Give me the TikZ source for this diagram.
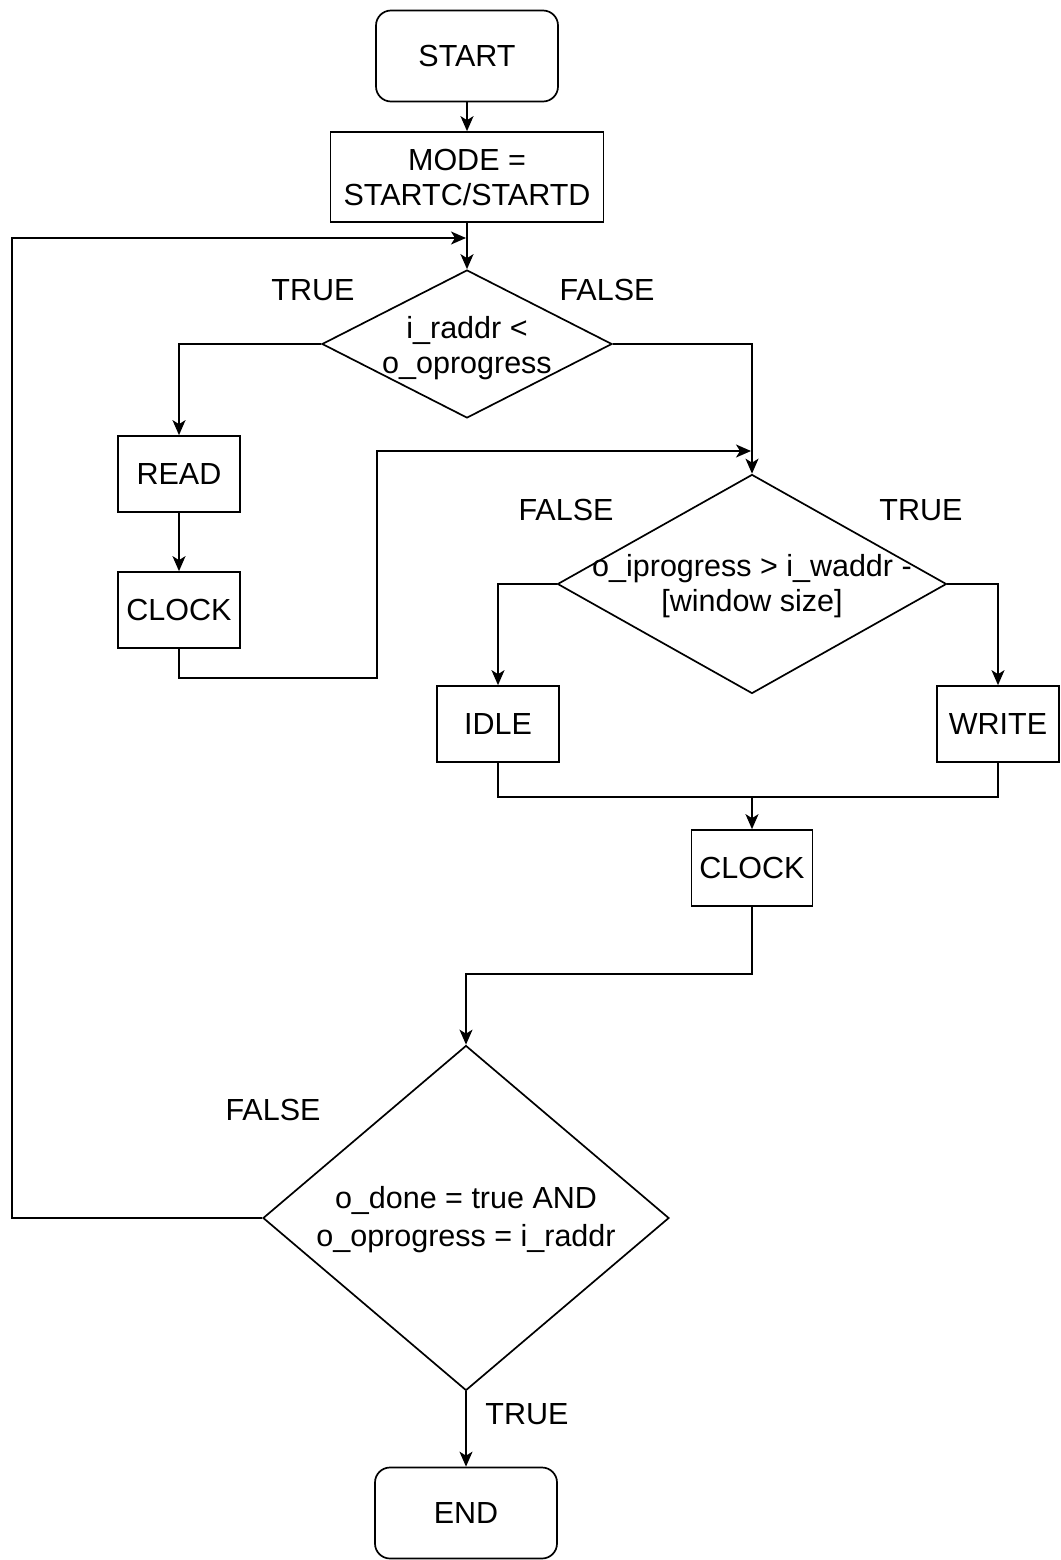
\documentclass[tikz,border=0pt]{standalone}
\usepackage{fontspec}
\setmainfont{Liberation Sans}
\usetikzlibrary{arrows.meta,shapes.geometric}
\begin{document}
\begin{tikzpicture}[x=1pt,y=-1pt,
  font=\fontsize{30.5}{35}\selectfont,
  line width=1.7pt,
  >={Stealth[length=15pt,width=13pt,inset=4pt]},
  box/.style={draw, rectangle, inner sep=0pt, align=center, minimum width=122pt, minimum height=76pt},
  rbox/.style={draw, rectangle, rounded corners=15pt, inner sep=0pt, minimum width=182pt, minimum height=91pt},
  dia/.style={draw, diamond, inner sep=0pt},
  txt/.style={inner sep=0pt, align=center},
  lbl/.style={inner sep=0pt}]
\useasboundingbox (0,0) rectangle (1060,1560);

\node[rbox] (start) at (467,56) {START};
\node[box, minimum width=273pt, minimum height=90pt] (mode) at (467,177) {MODE =\\STARTC/STARTD};
\node[dia, minimum width=290pt, minimum height=148pt] (d1) at (467,344) {};
\node[txt] (d1t) at (467,348) {i\_raddr <\\o\_oprogress};
\node[box] (read) at (179,474) {READ};
\node[box] (clk1) at (179,610) {CLOCK};
\node[dia, minimum width=389pt, minimum height=219pt] (d2) at (752,584) {};
\node[txt] (d2t) at (752,586) {o\_iprogress > i\_waddr -\\{}[window size]};
\node[box] (idle) at (498,724) {IDLE};
\node[box] (write) at (998,724) {WRITE};
\node[box, minimum width=121pt] (clk2) at (752,868) {CLOCK};
\node[dia, minimum width=406pt, minimum height=345pt] (d3) at (466,1218) {};
\node[txt, font=\fontsize{30.5}{38}\selectfont] (d3t) at (466,1220) {o\_done = true AND\\o\_oprogress = i\_raddr};
\node[rbox] (end) at (466,1513) {END};

\node[lbl] (l1) at (313,290) {TRUE};
\node[lbl] (l2) at (607,290) {FALSE};
\node[lbl] (l3) at (566,510) {FALSE};
\node[lbl] (l4) at (921,510) {TRUE};
\node[lbl] (l5) at (273,1110) {FALSE};
\node[lbl] (l6) at (527,1414) {TRUE};

\coordinate (lpA) at (12,238);
\coordinate (lpB) at (466,238);
\coordinate (c1a) at (377,678);
\coordinate (c1b) at (751,451);
\coordinate (m) at (752,797);
\coordinate (c2a) at (600,974);

\draw[->] (start) -- (mode);
\draw[->] (mode) -- (d1);
\draw[->] (d3.west) -| (lpA) -- (lpB);
\draw[->] (d1.west) -| (read.north);
\draw[->] (d1.east) -| (d2.north);
\draw[->] (read) -- (clk1);
\draw[->] (clk1.south) |- (c1a) |- (c1b);
\draw[->] (d2.west) -| (idle.north);
\draw[->] (d2.east) -| (write.north);
\draw (idle.south) |- (m) -| (write.south);
\draw[->] (m) -- (clk2.north);
\draw[->] (clk2.south) |- (c2a) -| (d3.north);
\draw[->] (d3.south) -- (end.north);
\end{tikzpicture}
\end{document}
